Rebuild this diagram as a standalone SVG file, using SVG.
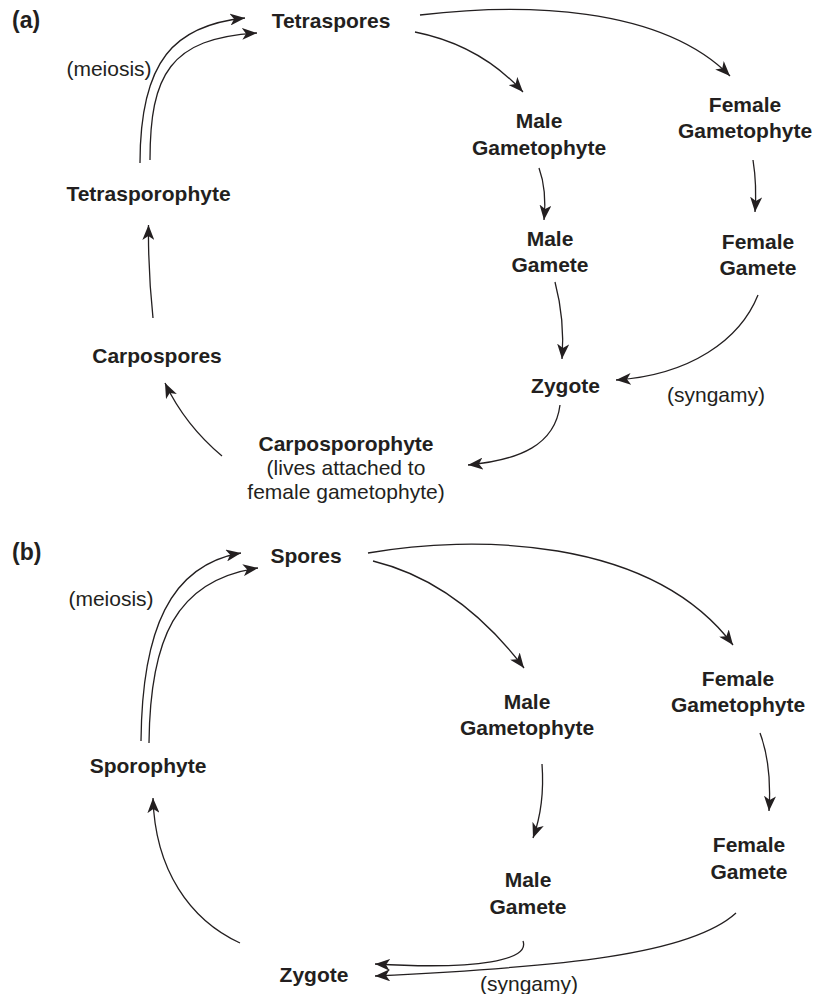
<svg xmlns="http://www.w3.org/2000/svg" width="816" height="994" viewBox="0 0 816 994">
<style>
text{font-family:"Liberation Sans",Arial,sans-serif;font-size:21px;fill:#231f20}
.b{font-weight:bold}
.n{text-anchor:middle}
.l{font-size:23px}
.c{fill:none;stroke:#231f20;stroke-width:1.3;marker-end:url(#ah)}
</style>
<defs>
<marker id="ah" markerUnits="userSpaceOnUse" markerWidth="16" markerHeight="12" viewBox="0 0 16 12" refX="15" refY="6" orient="auto">
<path d="M0,0 L15,6 L0,12 L4,6 z" fill="#231f20"/>
</marker>
</defs>
<rect width="816" height="994" fill="#fff"/>
<g id="labels">
<text id="label-a" class="b l" x="12" y="28">(a)</text>
<text id="label-b" class="b l" x="12" y="560">(b)</text>
</g>
<g id="a-tetraspores"><text class="b n" x="331" y="28">Tetraspores</text></g>
<g id="a-meiosis"><text class="n" x="109" y="76">(meiosis)</text></g>
<g id="a-tetrasporophyte"><text class="b n" x="148.5" y="201">Tetrasporophyte</text></g>
<g id="a-carpospores"><text class="b n" x="157" y="363">Carpospores</text></g>
<g id="a-male-gametophyte"><text class="b n" x="539" y="128">Male</text><text class="b n" x="539" y="155">Gametophyte</text></g>
<g id="a-female-gametophyte"><text class="b n" x="745" y="112">Female</text><text class="b n" x="745" y="138">Gametophyte</text></g>
<g id="a-male-gamete"><text class="b n" x="550" y="246">Male</text><text class="b n" x="550" y="272">Gamete</text></g>
<g id="a-female-gamete"><text class="b n" x="758" y="249">Female</text><text class="b n" x="758" y="275">Gamete</text></g>
<g id="a-zygote"><text class="b n" x="565.5" y="393">Zygote</text></g>
<g id="a-syngamy"><text class="n" x="716" y="402">(syngamy)</text></g>
<g id="a-carposporophyte"><text class="b n" x="346" y="451">Carposporophyte</text><text class="n" x="346" y="475">(lives attached to</text><text class="n" x="346" y="499">female gametophyte)</text></g>

<g id="b-spores"><text class="b n" x="306" y="563">Spores</text></g>
<g id="b-meiosis"><text class="n" x="111" y="606">(meiosis)</text></g>
<g id="b-sporophyte"><text class="b n" x="148" y="773">Sporophyte</text></g>
<g id="b-male-gametophyte"><text class="b n" x="527" y="709">Male</text><text class="b n" x="527" y="735">Gametophyte</text></g>
<g id="b-female-gametophyte"><text class="b n" x="738" y="686">Female</text><text class="b n" x="738" y="712">Gametophyte</text></g>
<g id="b-male-gamete"><text class="b n" x="528" y="887">Male</text><text class="b n" x="528" y="914">Gamete</text></g>
<g id="b-female-gamete"><text class="b n" x="749" y="852">Female</text><text class="b n" x="749" y="879">Gamete</text></g>
<g id="b-zygote"><text class="b n" x="314" y="982">Zygote</text></g>
<g id="b-syngamy"><text class="n" x="529" y="991">(syngamy)</text></g>

<g id="connectors">
<path class="c" d="M140,163 C140,60 175,25 245,18"/>
<path class="c" d="M150,160 C150,75 170,38 257,33"/>
<path class="c" d="M415,32 Q480,45 523,92"/>
<path class="c" d="M420,15 C520,3 660,5 730,76"/>
<path class="c" d="M539,168 Q547,190 544,220"/>
<path class="c" d="M753,160 Q757,185 755,212"/>
<path class="c" d="M555,282 Q565,320 562,359"/>
<path class="c" d="M758,295 C740,340 690,375 616,380"/>
<path class="c" d="M560,405 C555,445 520,460 468,465"/>
<path class="c" d="M222,456 Q185,425 165,383"/>
<path class="c" d="M153,318 Q148,270 148.5,225"/>

<path class="c" d="M141,741 C142,630 170,565 241,553"/>
<path class="c" d="M149,743 C150,640 175,580 258,568"/>
<path class="c" d="M373,561 C430,575 480,610 524,668"/>
<path class="c" d="M368,553 C470,535 650,535 733,645"/>
<path class="c" d="M542,764 Q545,805 533,838"/>
<path class="c" d="M760,733 Q772,765 769,811"/>
<path class="c" d="M523,941 C530,960 480,970 375,964"/>
<path class="c" d="M736,913 C690,955 560,967 375,976"/>
<path class="c" d="M240,943 C190,920 155,870 153,798"/>
</g>
</svg>
